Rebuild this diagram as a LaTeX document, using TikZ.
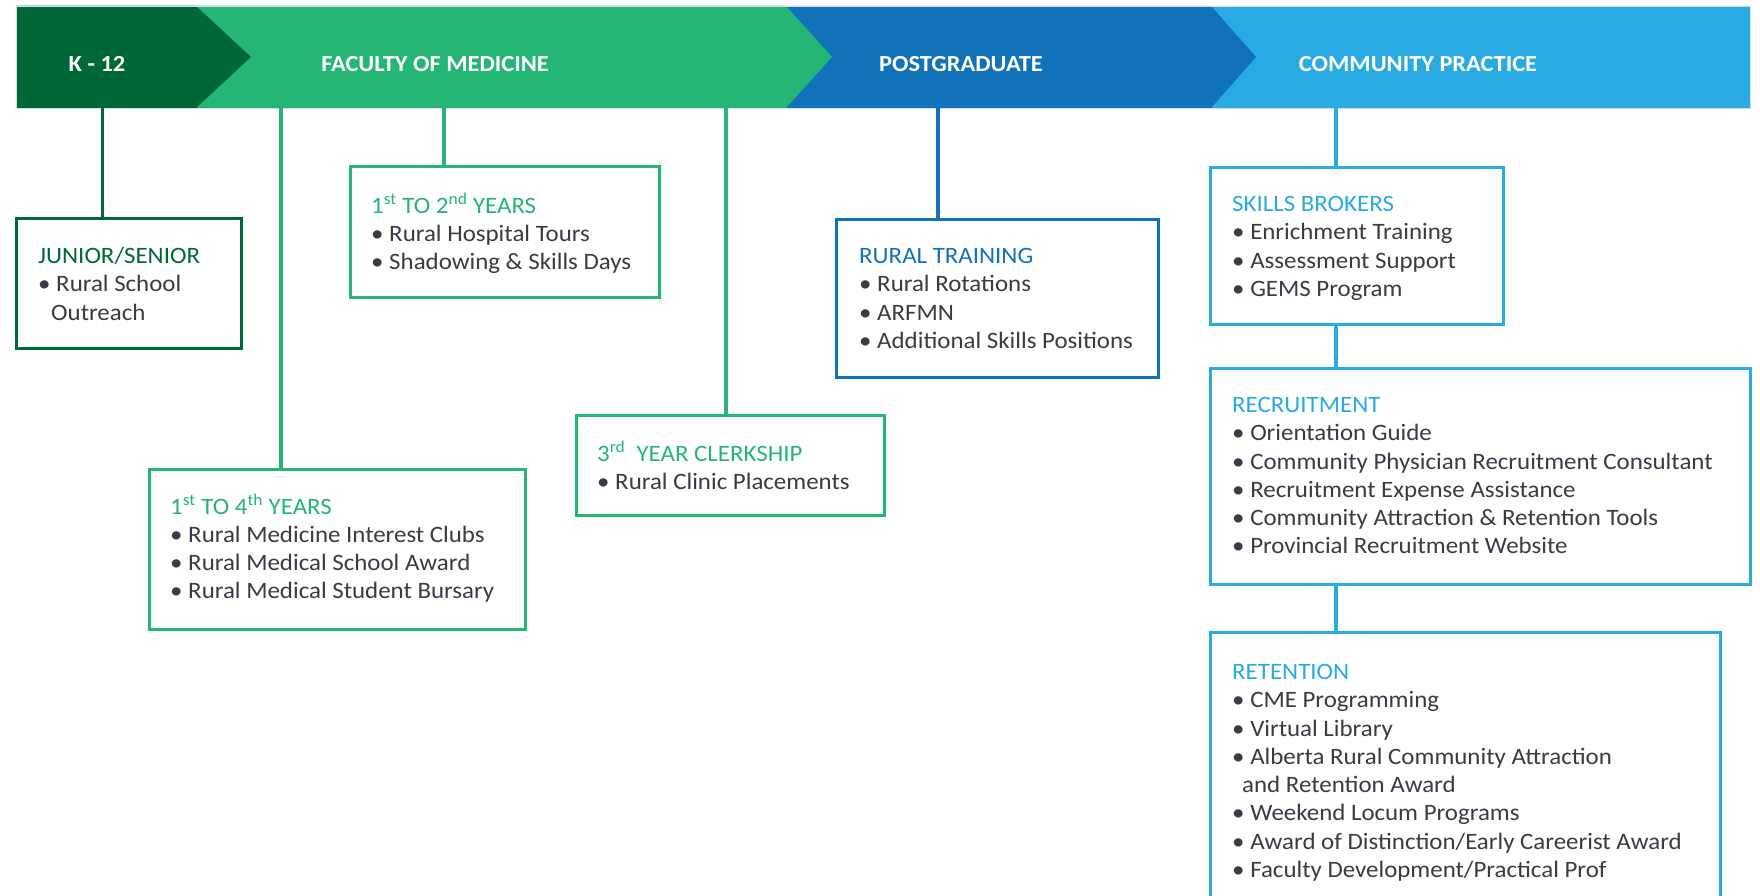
\documentclass[tikz,border=0pt]{standalone}
\usepackage{fontspec}
\setmainfont{Carlito}[FakeStretch=1.06]
\definecolor{dg}{RGB}{0,104,55}
\definecolor{lg}{RGB}{37,181,116}
\definecolor{db}{RGB}{17,114,186}
\definecolor{lb}{RGB}{41,170,226}
\definecolor{txt}{RGB}{58,58,72}
\definecolor{bedge}{RGB}{205,225,236}
\tikzset{
  bantext/.style={font=\fontsize{23}{28}\selectfont\bfseries, text=white, anchor=base, inner sep=0},
  boxshape/.style={draw, line width=3pt, fill=white, inner sep=0, outer sep=0},
  body/.style={font=\fontsize{23.5}{28.3}\selectfont, text=txt, align=left, anchor=north west, inner sep=0},
  conn/.style={line width=3.5pt},
}
\newcommand{\hd}[2]{\strut\textcolor{#1}{#2}}
\begin{document}
\begin{tikzpicture}[x=1pt,y=-1pt]
\clip (0,0) rectangle (1760,896);
\fill[white] (0,0) rectangle (1760,896);
% banner
\fill[lb] (16,6) rectangle (1750,108);
\fill[db] (16,6) -- (1211,6) -- (1256,57) -- (1211,108) -- (16,108) -- cycle;
\fill[lg] (16,6) -- (786,6) -- (832,57) -- (786,108) -- (16,108) -- cycle;
\fill[dg] (16,6) -- (196,6) -- (251,57) -- (196,108) -- (16,108) -- cycle;
\draw[bedge, line width=0.8pt] (16,6) rectangle (1750,108);
\node[bantext] (tk) at (97,72) {K - 12};
\node[bantext] (tf) at (435,72) {FACULTY OF MEDICINE};
\node[bantext] (tp) at (961,72) {POSTGRADUATE};
\node[bantext] (tc) at (1418,72) {COMMUNITY PRACTICE};
% connector origins
\coordinate (ck) at (102.5,108);
\coordinate (cf1) at (281,108);
\coordinate (cf2) at (444,108);
\coordinate (cf3) at (726,108);
\coordinate (cp) at (938,108);
\coordinate (cc) at (1336,108);
% boxes
\node[boxshape, draw=dg, minimum width=225pt, minimum height=130pt] (jb) at (128.5,283) {};
\node[boxshape, draw=lg, minimum width=309pt, minimum height=130pt] (b12) at (504.5,232) {};
\node[boxshape, draw=lg, minimum width=376pt, minimum height=160pt] (b14) at (337,549) {};
\node[boxshape, draw=lg, minimum width=308pt, minimum height=100pt] (b3) at (730,465) {};
\node[boxshape, draw=db, minimum width=322pt, minimum height=158pt] (rt) at (997,298) {};
\node[boxshape, draw=lb, minimum width=293pt, minimum height=156pt] (sk) at (1356.5,246) {};
\node[boxshape, draw=lb, minimum width=540pt, minimum height=216pt] (rc) at (1480,476) {};
\node[boxshape, draw=lb, minimum width=510pt, minimum height=288pt] (rn) at (1465,776) {};
% connectors
\draw[conn, dg] (ck) -- (ck |- jb.north);
\draw[conn, lg] (cf1) -- (cf1 |- b14.north);
\draw[conn, lg] (cf2) -- (cf2 |- b12.north);
\draw[conn, lg] (cf3) -- (cf3 |- b3.north);
\draw[conn, db] (cp) -- (cp |- rt.north);
\draw[conn, lb] (cc) -- (cc |- sk.north);
\draw[conn, lb] (cc |- sk.south) -- (cc |- rc.north);
\draw[conn, lb] (cc |- rc.south) -- (cc |- rn.north);
% texts
\node[body] (xjb) at (38,243.4) {\hd{dg}{JUNIOR/SENIOR}\\• Rural School\\\hspace{13pt}Outreach};
\node[body] (xb12) at (371,192.4) {\hd{lg}{1\textsuperscript{st} TO 2\textsuperscript{nd} YEARS}\\• Rural Hospital Tours\\• Shadowing \& Skills Days};
\node[body] (xb14) at (170,493.4) {\hd{lg}{1\textsuperscript{st} TO 4\textsuperscript{th} YEARS}\\• Rural Medicine Interest Clubs\\• Rural Medical School Award\\• Rural Medical Student Bursary};
\node[body] (xb3) at (597,440.4) {\hd{lg}{3\textsuperscript{rd}\ \ YEAR CLERKSHIP}\\• Rural Clinic Placements};
\node[body] (xrt) at (859,243.4) {\hd{db}{RURAL TRAINING}\\• Rural Rotations\\• ARFMN\\• Additional Skills Positions};
\node[body] (xsk) at (1232,191.4) {\hd{lb}{SKILLS BROKERS}\\• Enrichment Training\\• Assessment Support\\• GEMS Program};
\node[body] (xrc) at (1232,392.4) {\hd{lb}{RECRUITMENT}\\• Orientation Guide\\• Community Physician Recruitment Consultant\\• Recruitment Expense Assistance\\• Community Attraction \& Retention Tools\\• Provincial Recruitment Website};
\node[body] (xrn) at (1232,659.4) {\hd{lb}{RETENTION}\\• CME Programming\\• Virtual Library\\• Alberta Rural Community Attraction\\\hspace{10pt}and Retention Award\\• Weekend Locum Programs\\• Award of Distinction/Early Careerist Award\\• Faculty Development/Practical Prof};
\end{tikzpicture}
\end{document}
